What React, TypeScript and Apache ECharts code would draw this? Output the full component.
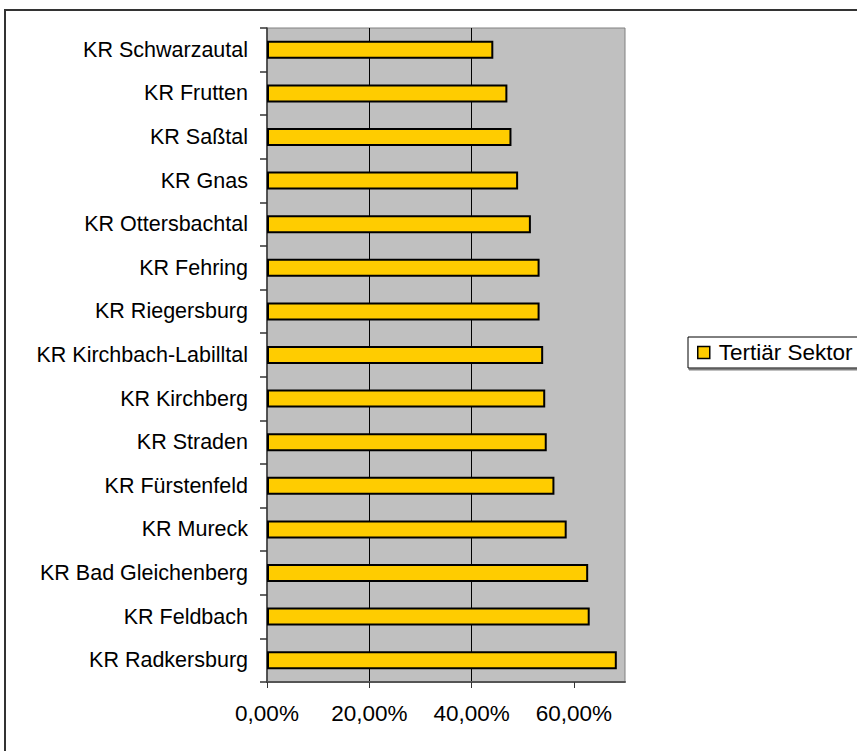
import React, { useEffect, useRef } from "react";
import * as echarts from "echarts";

const categories = [
  "KR Schwarzautal",
  "KR Frutten",
  "KR Saßtal",
  "KR Gnas",
  "KR Ottersbachtal",
  "KR Fehring",
  "KR Riegersburg",
  "KR Kirchbach-Labilltal",
  "KR Kirchberg",
  "KR Straden",
  "KR Fürstenfeld",
  "KR Mureck",
  "KR Bad Gleichenberg",
  "KR Feldbach",
  "KR Radkersburg",
];

const tertiaerValues = [
  0.4425, 0.470, 0.478, 0.491, 0.516, 0.533, 0.533, 0.540, 0.544, 0.547,
  0.562, 0.586, 0.628, 0.631, 0.684,
];

const seriesName = "Tertiär Sektor";
const xTickValues = [0, 0.2, 0.4, 0.6];

const FONT = "'Liberation Sans', Arial, Helvetica, sans-serif";

export default function App() {
  const ref = useRef<HTMLDivElement>(null);

  useEffect(() => {
    if (!ref.current) return;
    const chart = echarts.init(ref.current, null, { renderer: "svg" });
    chart.setOption({
      animation: false,
      backgroundColor: "#ffffff",
      graphic: [
        {
          type: "rect",
          shape: { x: 5, y: 10, width: 1000, height: 1000 },
          style: { fill: "none", stroke: "#333333", lineWidth: 2 },
          silent: true,
        },
      ],
      grid: {
        left: 267,
        top: 28,
        width: 358,
        height: 654,
        show: true,
        backgroundColor: "#C0C0C0",
        borderColor: "#808080",
        borderWidth: 1,
      },
      legend: {
        show: true,
        left: 688,
        top: 337,
        orient: "vertical",
        padding: [4, 9, 4, 9],
        itemWidth: 12,
        itemHeight: 12,
        icon: "rect",
        backgroundColor: "#ffffff",
        borderColor: "#000000",
        borderWidth: 1,
        shadowColor: "#808080",
        shadowOffsetX: 1,
        shadowOffsetY: 2,
        shadowBlur: 0,
        itemStyle: { borderColor: "#000000", borderWidth: 1.5 },
        textStyle: {
          fontFamily: FONT,
          fontSize: 22.5,
          color: "#000",
          padding: [0, 0, 0, 4],
        },
        data: [seriesName],
      },
      xAxis: {
        type: "value",
        min: 0,
        max: 0.7,
        interval: 0.2,
        axisLine: { show: true, lineStyle: { color: "#555555", width: 2 } },
        axisTick: {
          show: true,
          length: 6,
          customValues: xTickValues,
          lineStyle: { color: "#333333", width: 1 },
        },
        axisLabel: {
          customValues: xTickValues,
          margin: 20,
          fontFamily: FONT,
          fontSize: 22.5,
          color: "#000",
          formatter: (v: number) =>
            (v * 100).toFixed(2).replace(".", ",") + "%",
        },
        splitLine: {
          show: true,
          showMinLine: false,
          showMaxLine: false,
          lineStyle: { color: "#000000", width: 1 },
        },
      },
      yAxis: {
        type: "category",
        inverse: true,
        data: categories,
        axisLine: { show: true, lineStyle: { color: "#333333", width: 1.5 } },
        axisTick: {
          show: true,
          length: 7,
          lineStyle: { color: "#333333", width: 1.5 },
        },
        axisLabel: {
          margin: 19,
          fontFamily: FONT,
          fontSize: 21.5,
          color: "#000",
        },
        splitLine: { show: false },
      },
      series: [
        {
          name: seriesName,
          type: "bar",
          data: tertiaerValues,
          barWidth: 18,
          itemStyle: {
            color: "#FFCC00",
            borderColor: "#000000",
            borderWidth: 2,
          },
        },
      ],
    });
    return () => chart.dispose();
  }, []);

  return (
    <div
      ref={ref}
      style={{ position: "fixed", left: 0, top: 0, width: 857, height: 751 }}
    />
  );
}
